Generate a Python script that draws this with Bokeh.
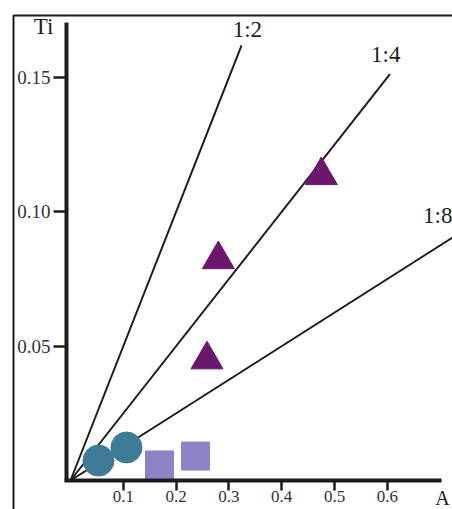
from bokeh.plotting import figure
from bokeh.models import LinearAxis, Range1d, FixedTicker
from bokeh.core.properties import value
from bokeh.embed import file_html
from bokeh.resources import INLINE

# ---------------- data ----------------
circle_a = [0.053, 0.106]
circle_ti = [0.0074, 0.0123]
square_a = [0.1686, 0.2367]
square_ti = [0.0058, 0.0091]
triangle_a = [0.2585, 0.280, 0.475]
triangle_ti = [0.045, 0.0823, 0.1136]

ratio_labels = ["1:2", "1:4", "1:8"]
ratio_div = [2, 4, 8]            # Ti = A / ratio
ratio_end_a = [0.324, 0.605, 0.80]
ratio_label_a = [0.335, 0.597, 0.7235]
ratio_label_ti = [0.168, 0.1586, 0.0985]
ratio_label_align = ["center", "center", "right"]

x_ticks = [0.1, 0.2, 0.3, 0.4, 0.5, 0.6]
x_tick_labels = ["0.1", "0.2", "0.3", "0.4", "0.5", "0.6"]
y_ticks = [0.05, 0.10, 0.15]
y_tick_labels = ["0.05", "0.10", "0.15"]

# ---------------- geometry (canvas pixels) ----------------
W, H = 452, 509
PX0, PXS = 70.0, 528.0     # canvas x of A=0, px per unit A
PY0, PYS = 480.0, 2686.0   # canvas y of Ti=0, px per unit Ti


def ax_(px):
    return (px - PX0) / PXS


def ay_(py):
    return (PY0 - py) / PYS


x_range = Range1d(ax_(0), ax_(W))
y_range = Range1d(ay_(H), ay_(0))

p = figure(width=W, height=H, x_range=x_range, y_range=y_range,
           output_backend="svg", toolbar_location=None,
           x_axis_location=None, y_axis_location=None,
           min_border=0, min_border_left=0, min_border_right=0,
           min_border_top=0, min_border_bottom=0)
p.grid.visible = False
p.outline_line_color = None
p.background_fill_color = "white"
p.border_fill_color = "white"

FONT = "Liberation Serif"
INK = "#1c1c1c"

# outer frame (left & top edges only visible)
p.line(x=[ax_(13), ax_(13), ax_(W + 20)], y=[ay_(H + 20), ay_(15), ay_(15)],
       line_color=INK, line_width=2)

# ratio lines
for div, end_a in zip(ratio_div, ratio_end_a):
    p.line(x=[0, end_a], y=[0, end_a / div], line_color=INK, line_width=2)

p.text(x="a", y="ti", text="t", text_align="align",
       source=dict(a=ratio_label_a, ti=ratio_label_ti, t=ratio_labels,
                   align=ratio_label_align),
       text_font=value(FONT), text_font_size="23px", text_color=INK,
       text_baseline="middle")

# markers
p.scatter(circle_a, circle_ti, marker="circle", size=31,
          fill_color="#3e7b97", line_color="#3e7b97")
p.scatter(square_a, square_ti, marker="square", size=28,
          fill_color="#8c84c4", line_color="#8c84c4")
p.scatter(triangle_a, triangle_ti, marker="triangle", size=32,
          fill_color="#6a176c", line_color="#6a176c")

# axes
yax = LinearAxis(fixed_location=ax_(66), bounds=(ay_(481), ay_(22)),
                 ticker=FixedTicker(ticks=y_ticks),
                 major_label_overrides={t: l for t, l in zip(y_ticks, y_tick_labels)})
xax = LinearAxis(fixed_location=0.0, bounds=(ax_(64), ax_(441)),
                 ticker=FixedTicker(ticks=x_ticks),
                 major_label_overrides={t: l for t, l in zip(x_ticks, x_tick_labels)})
for ax in (xax, yax):
    ax.axis_line_width = 4
    ax.axis_line_color = INK
    ax.major_tick_line_width = 2.5
    ax.major_tick_line_color = INK
    ax.major_tick_in = 0
    ax.minor_tick_out = 0
    ax.minor_tick_in = 0
    ax.major_label_text_font = FONT
    ax.major_label_text_color = "#333333"
yax.major_tick_out = 13
yax.major_label_standoff = 3
yax.major_label_text_font_size = "19px"
xax.major_tick_out = 10
xax.major_label_standoff = 0
xax.major_label_text_font_size = "17px"
p.add_layout(yax, "left")
p.add_layout(xax, "below")

# axis titles
p.text(x=[ax_(43)], y=[ay_(26)], text=["Ti"],
       text_font=value(FONT), text_font_size="23px", text_color=INK,
       text_align="center", text_baseline="middle")
p.text(x=[ax_(442)], y=[ay_(508)], text=["A"],
       text_font=value(FONT), text_font_size="20px", text_color=INK,
       text_align="center", text_baseline="bottom")

open("out.html", "w").write(file_html(p, INLINE))
